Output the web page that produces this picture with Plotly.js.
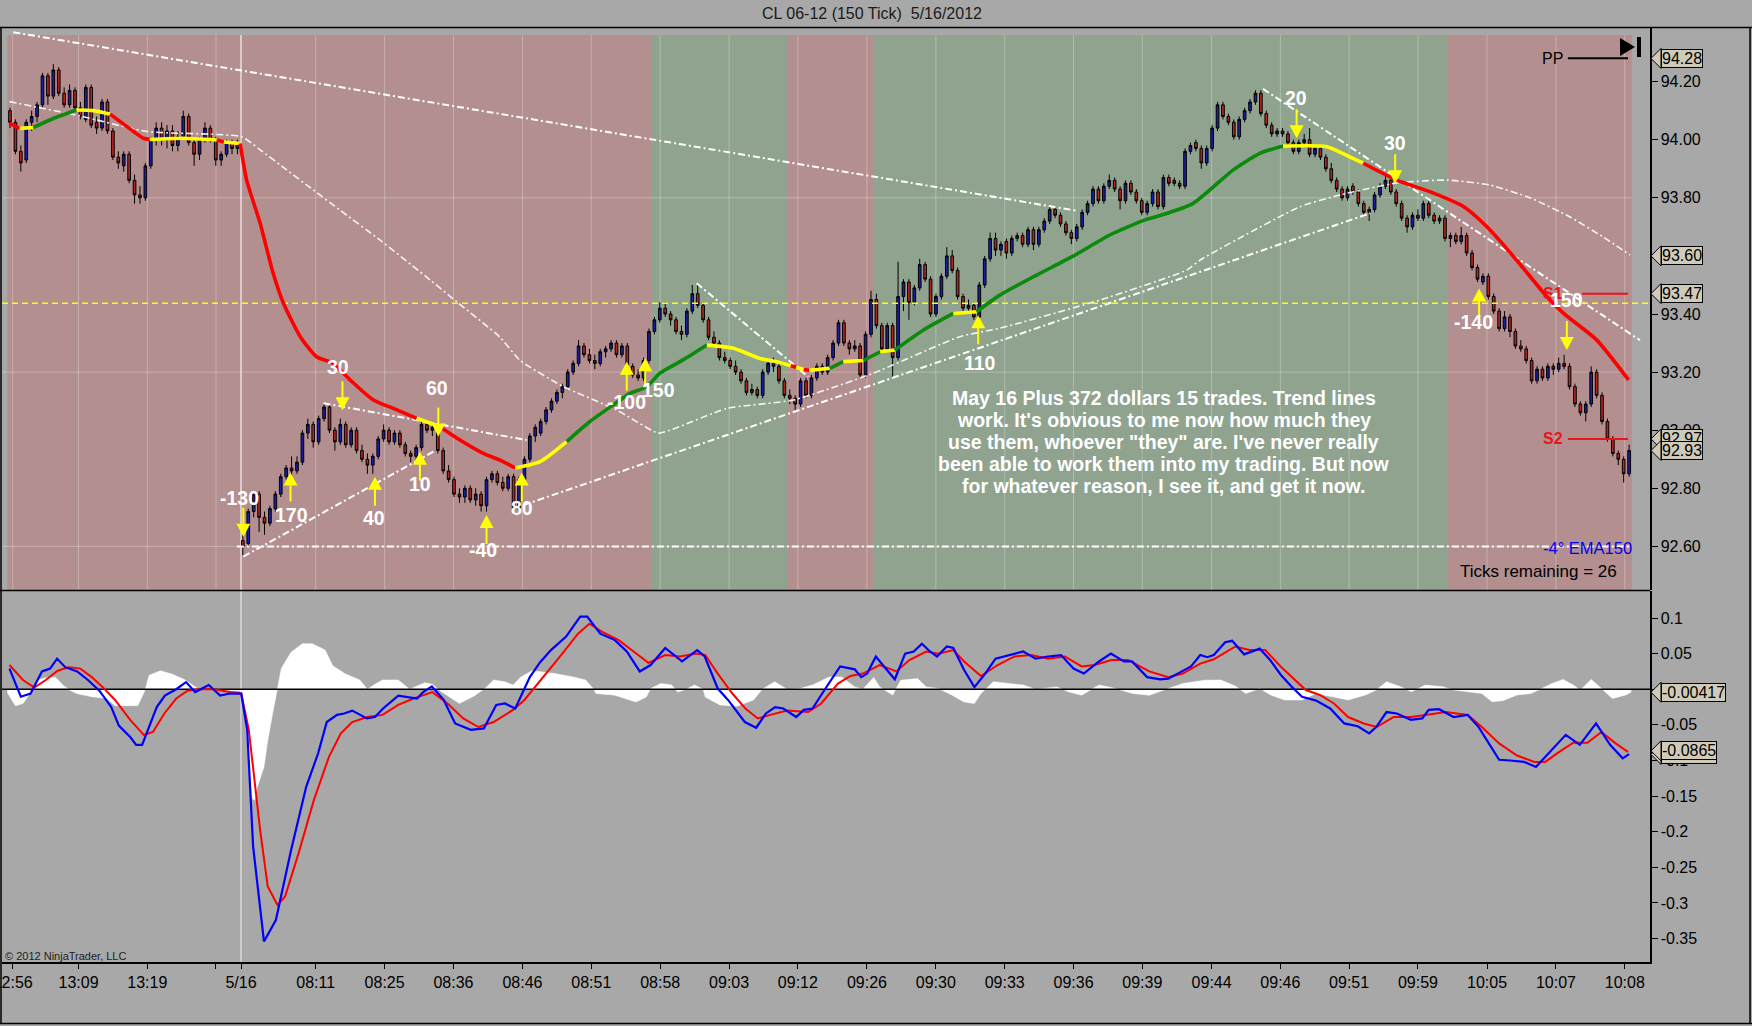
<!DOCTYPE html>
<html><head><meta charset="utf-8">
<script src="https://cdn.plot.ly/plotly-3.0.1.min.js"></script>
<style>html,body{margin:0;padding:0;background:#a8a8a8;}#chart{width:1752px;height:1026px;}</style>
</head><body><div id="chart"></div>
<script>
// ---------------- DATA ----------------
const open=[
94.10,94.06,93.96,93.93,94.06,94.08,94.12,94.22,94.15,94.24,
94.16,94.12,94.17,94.11,94.07,94.18,94.06,94.04,94.13,94.03,
93.94,93.91,93.95,93.86,93.81,93.80,93.91,94.00,94.04,94.00,
94.03,93.98,94.01,94.08,93.99,93.95,94.00,94.04,94.00,93.93,
93.95,93.99,93.97,92.62,92.61,92.72,92.78,92.70,92.68,92.73,
92.78,92.84,92.87,92.86,92.89,92.99,93.02,92.96,93.04,93.08,
93.00,92.96,93.02,92.95,93.00,92.93,92.90,92.88,92.91,92.97,
93.00,92.96,92.99,92.95,92.92,92.91,92.94,93.02,93.00,93.01,
92.93,92.86,92.83,92.78,92.77,92.80,92.76,92.78,92.74,92.83,
92.85,92.82,92.80,92.84,92.73,92.83,92.90,92.98,92.99,93.03,
93.07,93.10,93.13,93.15,93.20,93.23,93.29,93.26,93.24,93.23,
93.27,93.28,93.30,93.26,93.29,93.22,93.19,93.18,93.24,93.34,
93.38,93.42,93.40,93.38,93.34,93.33,93.41,93.47,93.43,93.38,
93.32,93.30,93.25,93.24,93.22,93.20,93.17,93.13,93.14,93.12,
93.20,93.23,93.22,93.17,93.12,93.11,93.09,93.17,93.12,93.18,
93.22,93.20,93.25,93.30,93.37,93.30,93.28,93.29,93.19,93.33,
93.45,93.36,93.28,93.36,93.25,93.46,93.51,93.44,93.49,93.57,
93.52,93.40,93.46,93.53,93.60,93.55,93.46,93.42,93.43,93.39,
93.50,93.59,93.66,93.62,93.65,93.61,93.66,93.67,93.64,93.69,
93.64,93.69,93.72,93.76,93.74,93.71,93.68,93.66,93.70,93.75,
93.78,93.83,93.79,93.84,93.86,93.83,93.79,93.85,93.82,93.79,
93.75,93.78,93.82,93.77,93.87,93.86,93.85,93.84,93.96,93.99,
93.97,93.92,93.97,94.04,94.12,94.08,94.06,94.01,94.07,94.10,
94.13,94.16,94.09,94.05,94.02,94.03,94.02,93.99,93.96,93.99,
94.00,93.95,93.97,93.94,93.90,93.86,93.83,93.80,93.84,93.82,
93.78,93.75,93.76,93.81,93.84,93.86,93.82,93.78,93.73,93.70,
93.74,93.73,93.78,93.74,93.72,93.73,93.66,93.67,93.65,93.67,
93.61,93.56,93.51,93.53,93.46,93.41,93.35,93.39,93.34,93.29,
93.28,93.24,93.17,93.21,93.18,93.22,93.21,93.23,93.22,93.15,
93.09,93.06,93.09,93.20,93.12,93.03,92.97,92.92,92.90,92.85];
const high=[
94.11,94.07,93.98,94.07,94.10,94.13,94.23,94.23,94.26,94.25,
94.18,94.19,94.18,94.13,94.19,94.19,94.08,94.14,94.14,94.04,
93.96,93.96,93.96,93.88,93.84,93.92,94.01,94.06,94.06,94.05,
94.05,94.03,94.10,94.09,94.00,94.01,94.06,94.05,94.01,93.96,
94.00,94.00,94.00,92.64,92.73,92.79,92.79,92.72,92.74,92.79,
92.85,92.88,92.91,92.91,93.00,93.04,93.03,93.05,93.09,93.09,
93.01,93.04,93.03,93.01,93.01,92.95,92.92,92.92,92.98,93.02,
93.01,93.00,93.00,92.96,92.93,92.95,93.03,93.03,93.02,93.02,
92.94,92.88,92.84,92.80,92.81,92.81,92.80,92.79,92.84,92.86,
92.86,92.84,92.85,92.85,92.84,92.91,92.99,93.02,93.04,93.08,
93.11,93.14,93.16,93.21,93.24,93.31,93.30,93.28,93.26,93.28,
93.29,93.31,93.31,93.30,93.30,93.23,93.21,93.25,93.35,93.39,
93.44,93.44,93.41,93.39,93.36,93.42,93.50,93.50,93.44,93.39,
93.34,93.31,93.27,93.25,93.24,93.21,93.18,93.16,93.15,93.21,
93.24,93.25,93.23,93.18,93.14,93.12,93.18,93.18,93.19,93.23,
93.23,93.26,93.31,93.38,93.38,93.31,93.31,93.30,93.34,93.48,
93.47,93.37,93.37,93.37,93.58,93.52,93.52,93.50,93.59,93.58,
93.53,93.47,93.54,93.63,93.62,93.56,93.47,93.45,93.44,93.51,
93.60,93.68,93.68,93.65,93.66,93.67,93.68,93.68,93.70,93.70,
93.70,93.73,93.77,93.77,93.75,93.72,93.69,93.71,93.76,93.79,
93.84,93.84,93.85,93.88,93.87,93.84,93.86,93.86,93.83,93.80,
93.79,93.83,93.83,93.88,93.88,93.87,93.86,93.97,93.99,94.00,
93.98,93.98,94.05,94.13,94.13,94.09,94.07,94.08,94.11,94.14,
94.17,94.17,94.10,94.06,94.04,94.04,94.03,94.00,94.00,94.02,
94.04,93.98,93.98,93.95,93.92,93.87,93.84,93.84,93.85,93.83,
93.79,93.77,93.82,93.85,93.88,93.87,93.83,93.79,93.74,93.75,
93.76,93.79,93.79,93.75,93.74,93.74,93.68,93.68,93.70,93.68,
93.62,93.57,93.54,93.54,93.47,93.42,93.41,93.40,93.35,93.31,
93.29,93.25,93.22,93.22,93.23,93.23,93.25,93.26,93.23,93.16,
93.10,93.10,93.22,93.21,93.13,93.04,92.98,92.93,92.91,92.95];
const low=[
94.04,93.95,93.89,93.92,94.03,94.06,94.11,94.12,94.14,94.15,
94.11,94.11,94.10,94.07,94.06,94.04,94.02,94.03,94.02,93.93,
93.90,93.89,93.85,93.78,93.78,93.79,93.90,93.98,93.98,93.97,
93.96,93.96,94.00,93.98,93.91,93.93,93.99,93.99,93.91,93.91,
93.94,93.95,93.95,92.57,92.60,92.70,92.65,92.64,92.67,92.72,
92.77,92.83,92.84,92.85,92.88,92.97,92.94,92.95,93.03,92.99,
92.93,92.95,92.94,92.94,92.92,92.89,92.85,92.85,92.90,92.96,
92.95,92.95,92.94,92.91,92.89,92.90,92.93,92.99,92.98,92.92,
92.85,92.82,92.77,92.75,92.75,92.75,92.74,92.72,92.72,92.82,
92.81,92.79,92.79,92.71,92.72,92.82,92.89,92.96,92.98,93.02,
93.06,93.09,93.11,93.14,93.19,93.22,93.25,93.23,93.21,93.22,
93.25,93.27,93.25,93.25,93.21,93.18,93.17,93.17,93.23,93.33,
93.37,93.39,93.36,93.33,93.31,93.32,93.40,93.42,93.37,93.31,
93.29,93.24,93.23,93.21,93.19,93.16,93.12,93.12,93.11,93.11,
93.19,93.20,93.16,93.11,93.09,93.07,93.08,93.11,93.11,93.17,
93.19,93.19,93.24,93.29,93.29,93.26,93.27,93.18,93.18,93.32,
93.35,93.27,93.27,93.18,93.24,93.41,93.38,93.43,93.48,93.51,
93.39,93.39,93.45,93.52,93.54,93.45,93.41,93.40,93.38,93.38,
93.49,93.58,93.60,93.60,93.59,93.60,93.65,93.63,93.63,93.62,
93.63,93.68,93.71,93.73,93.70,93.67,93.64,93.65,93.69,93.74,
93.77,93.78,93.78,93.83,93.82,93.76,93.78,93.81,93.78,93.74,
93.74,93.77,93.76,93.76,93.84,93.84,93.83,93.83,93.95,93.96,
93.90,93.91,93.96,94.03,94.07,94.05,94.00,94.00,94.06,94.09,
94.12,94.08,94.04,94.01,94.01,94.01,93.98,93.95,93.95,93.98,
93.94,93.94,93.93,93.89,93.85,93.82,93.79,93.79,93.81,93.77,
93.74,93.72,93.75,93.80,93.83,93.81,93.77,93.72,93.68,93.69,
93.72,93.72,93.73,93.71,93.71,93.65,93.63,93.64,93.64,93.60,
93.55,93.51,93.50,93.45,93.40,93.34,93.34,93.32,93.28,93.27,
93.23,93.16,93.16,93.17,93.17,93.19,93.20,93.21,93.14,93.08,
93.05,93.03,93.08,93.11,93.02,92.96,92.91,92.88,92.82,92.84];
const close=[
94.06,93.96,93.92,94.06,94.08,94.12,94.22,94.15,94.24,94.16,
94.12,94.17,94.11,94.08,94.18,94.05,94.04,94.13,94.03,93.94,
93.92,93.95,93.86,93.81,93.80,93.91,94.00,94.04,94.00,94.03,
93.98,94.01,94.08,93.99,93.95,94.00,94.04,94.00,93.93,93.95,
93.99,93.97,93.99,92.60,92.72,92.78,92.70,92.68,92.73,92.78,
92.84,92.87,92.86,92.89,92.99,93.02,92.96,93.04,93.08,93.00,
92.96,93.02,92.95,93.00,92.93,92.90,92.88,92.91,92.97,93.00,
92.96,92.99,92.95,92.92,92.91,92.94,93.02,93.00,93.01,92.93,
92.86,92.83,92.78,92.77,92.80,92.76,92.78,92.74,92.83,92.85,
92.82,92.80,92.84,92.73,92.83,92.90,92.98,93.01,93.03,93.07,
93.10,93.13,93.15,93.20,93.23,93.29,93.26,93.24,93.23,93.27,
93.28,93.30,93.26,93.29,93.22,93.19,93.18,93.24,93.34,93.38,
93.42,93.40,93.38,93.34,93.33,93.41,93.47,93.43,93.38,93.32,
93.30,93.25,93.24,93.22,93.20,93.17,93.13,93.14,93.12,93.20,
93.23,93.22,93.17,93.12,93.11,93.09,93.17,93.12,93.18,93.22,
93.20,93.25,93.30,93.37,93.30,93.28,93.29,93.19,93.33,93.45,
93.36,93.28,93.36,93.25,93.46,93.51,93.44,93.49,93.57,93.52,
93.40,93.46,93.53,93.60,93.55,93.46,93.42,93.43,93.39,93.50,
93.59,93.66,93.62,93.64,93.61,93.66,93.67,93.64,93.69,93.64,
93.69,93.72,93.76,93.74,93.71,93.68,93.66,93.70,93.75,93.78,
93.83,93.79,93.84,93.86,93.83,93.79,93.85,93.82,93.79,93.75,
93.78,93.82,93.77,93.87,93.85,93.85,93.84,93.96,93.98,93.97,
93.92,93.97,94.04,94.12,94.08,94.06,94.01,94.07,94.10,94.13,
94.16,94.09,94.05,94.02,94.03,94.02,93.99,93.96,93.99,94.00,
93.95,93.97,93.94,93.90,93.86,93.83,93.80,93.83,93.82,93.78,
93.75,93.76,93.81,93.84,93.86,93.82,93.78,93.73,93.70,93.74,
93.73,93.78,93.74,93.72,93.73,93.66,93.67,93.65,93.67,93.61,
93.56,93.52,93.53,93.46,93.41,93.35,93.39,93.34,93.29,93.28,
93.24,93.17,93.21,93.18,93.22,93.21,93.23,93.22,93.15,93.09,
93.06,93.09,93.20,93.12,93.03,92.97,92.92,92.90,92.85,92.93];

// x-axis ticks (bar index positions) and labels
const tickIdx=[0.5,12.65,25.36,38.04,42.66,56.45,69.18,81.9,94.63,107.35,120.07,132.8,145.5,158.25,170.97,183.7,196.4,209.1,221.9,234.6,247.3,260.0,272.76,285.5,298.2];
const tickText=['12:56','13:09','13:19','','5/16','08:11','08:25','08:36','08:46','08:51','08:58','09:03','09:12','09:26','09:30','09:33','09:36','09:39','09:44','09:46','09:51','09:59','10:05','10:07','10:08'];
const sessionIdx=42.66;

// background regimes [startBar, endBar, side]
const regimes=[[-0.5,118.5,'short'],[118.5,143.5,'long'],[143.5,159.5,'short'],[159.5,265.5,'long'],[265.5,299.5,'short']];

// EMA150 (slope-coloured): 1 rising, 0 flat, -1 falling
const emaIdx=[-0.1,1.8,4.3,8.0,12.3,15.4,18.5,21.6,24.6,25.8,32.0,38.2,39.5,42.5,43.7,46.2,48.6,50.5,53.6,56.6,59.7,62.8,67.1,70.8,75.1,79.4,83.1,87.4,90.5,93.3,97.9,102.8,107.1,111.4,114.5,117.6,120.0,124.3,128.7,133.6,138.5,141.6,144.2,145.2,146.6,147.6,151.4,153.9,157.6,160.7,163.4,168.7,174.2,178.5,182.8,189.6,196.4,203.1,209.6,212.4,218.5,225.9,230.8,235.1,243.2,247.5,249.9,256.1,262.2,268.4,272.7,278.2,283.8,286.9,293.0,298.9];
const emaVal=[94.056,94.039,94.042,94.073,94.102,94.100,94.088,94.045,94.005,94.001,94.005,93.999,93.992,93.987,93.861,93.712,93.540,93.437,93.322,93.253,93.230,93.173,93.104,93.075,93.041,93.012,92.966,92.920,92.897,92.870,92.892,92.961,93.030,93.087,93.127,93.150,93.196,93.242,93.293,93.282,93.247,93.236,93.222,93.217,93.209,93.206,93.213,93.236,93.240,93.270,93.276,93.345,93.402,93.408,93.465,93.534,93.600,93.672,93.724,93.739,93.781,93.896,93.953,93.978,93.976,93.940,93.919,93.861,93.821,93.770,93.701,93.586,93.460,93.402,93.311,93.173];
const emaTrend=[-1,0,1,1,0,0,-1,-1,-1,0, 0,-1,0,-1,-1,-1,-1,-1,-1,-1, -1,-1,-1,-1,0,-1,-1,-1,-1,0, 0,1,1,1,1,1,1,1,0,0, 0,0,-1,0,-1,0,1,0,1,0, 1,1,0,1,1,1,1,1,1,1, 1,1,1,0,0,0,-1,-1,-1,-1, -1,-1,-1,-1,-1,-1];

// long moving average (white dash-dot curve)
const smaIdx=[-0.1,12.9,25.3,42.8,46.2,51.1,56.0,60.9,68.3,77.6,82.5,90.5,94.2,102.2,112.0,119.7,121.9,132.4,144.7,159.4,175.4,182.8,201.3,217.3,219.8,238.2,245.6,256.1,265.4,273.3,280.7,288.1,294.2,299.2];
const smaVal=[94.131,94.082,94.028,94.010,93.965,93.896,93.827,93.758,93.655,93.517,93.442,93.320,93.240,93.150,93.070,92.990,93.000,93.075,93.104,93.196,93.322,93.351,93.448,93.551,93.586,93.769,93.810,93.851,93.861,93.844,93.800,93.734,93.665,93.603];

// trend lines [x0, price0, x1, price1]
const trendLines=[[0.6,94.37,197.2,93.755],[43.1,92.565,78.2,92.926],[57.9,93.093,95.4,92.966],[94.8,92.742,251.2,93.747],[126.8,93.506,147.4,93.184],[231.4,94.175,301.0,93.31],[41.9,92.60,299.2,92.60]];
const yellowLine=93.437;

// pivot levels
const levelName=['PP','S1','S2'];
const levelVal=[94.28,93.47,92.97];
const levelStart=[287.7,290.3,287.7];
const levelEnd=[298.8,298.8,298.8];

// trades
const tradeIdx=[43.1,51.8,61.4,67.4,75.7,79.1,88.0,94.5,113.9,117.3,178.8,237.6,255.8,271.3,287.5];
const tradeTip=[92.633,92.854,93.069,92.840,92.926,92.978,92.708,92.854,93.236,93.248,93.396,94.005,93.850,93.488,93.276];
const tradeDir=[-1,1,-1,1,1,-1,1,1,1,1,1,-1,-1,1,-1];
const tradePnl=['-130','170','30','40','10','60','-40','80','-100','150','110','20','30','-140','150'];
const labelIdx=[42.3,52.0,60.6,67.2,75.7,78.9,87.4,94.5,113.9,119.7,179.1,237.5,255.8,270.2,287.5];
const labelPrice=[92.765,92.708,93.217,92.697,92.815,93.144,92.588,92.731,93.098,93.138,93.232,94.143,93.990,93.374,93.448];

// MACD panel
const blueIdx=[-0.1,2.0,3.8,5.9,7.4,8.7,10.2,12.4,14.4,16.5,18.7,20.1,22.2,23.3,24.4,25.7,27.1,28.6,30.7,32.5,34.2,36.7,38.8,40.6,42.7,43.8,44.9,46.9,49.1,51.9,54.7,56.9,58.5,60.4,61.7,63.2,65.9,67.4,68.9,71.7,73.8,75.2,76.3,77.9,80.1,82.2,85.1,87.5,89.8,91.4,93.3,96.0,97.9,99.9,102.7,105.3,106.6,109.0,111.7,113.9,116.3,118.3,121.0,124.1,126.9,128.3,130.7,132.6,135.7,137.8,139.6,141.3,142.8,145.2,146.6,148.2,150.5,153.3,156.0,157.2,158.3,159.9,161.4,163.4,165.3,166.9,168.4,169.9,171.2,173.0,174.2,176.2,178.1,180.1,182.0,184.7,187.1,189.4,191.7,194.1,196.4,198.3,201.1,203.3,205.7,207.2,210.0,212.4,213.9,215.9,218.1,219.8,221.1,222.3,224.4,225.7,227.9,230.8,232.7,234.7,236.7,238.6,241.2,243.8,246.4,248.9,251.0,252.3,254.2,256.1,258.7,260.8,262.0,263.9,266.6,269.2,271.1,273.1,275.0,277.0,279.6,281.8,284.1,287.3,289.9,292.9,295.5,297.8,299.0];
const blueVal=[0.029,-0.0105,-0.006,0.025,0.029,0.043,0.031,0.025,0.013,-0.002,-0.025,-0.051,-0.067,-0.078,-0.078,-0.053,-0.025,-0.009,0.0,0.01,-0.004,0.006,-0.009,-0.006,-0.006,-0.057,-0.221,-0.354,-0.324,-0.226,-0.137,-0.090,-0.046,-0.036,-0.034,-0.030,-0.041,-0.039,-0.027,-0.009,-0.011,-0.013,-0.004,0.004,-0.015,-0.048,-0.057,-0.055,-0.022,-0.020,-0.027,0.017,0.038,0.055,0.074,0.102,0.102,0.078,0.069,0.053,0.025,0.034,0.058,0.039,0.055,0.046,0.001,-0.015,-0.046,-0.054,-0.034,-0.025,-0.027,-0.039,-0.029,-0.027,0.0,0.032,0.028,0.017,0.022,0.046,0.032,0.014,0.050,0.053,0.064,0.053,0.046,0.060,0.058,0.027,0.003,0.022,0.043,0.048,0.053,0.043,0.046,0.048,0.029,0.022,0.039,0.050,0.039,0.039,0.017,0.014,0.015,0.023,0.032,0.048,0.045,0.048,0.066,0.068,0.049,0.057,0.041,0.020,0.0035,-0.0105,-0.016,-0.027,-0.048,-0.052,-0.062,-0.053,-0.032,-0.034,-0.043,-0.041,-0.029,-0.028,-0.039,-0.036,-0.052,-0.076,-0.099,-0.100,-0.102,-0.109,-0.090,-0.064,-0.078,-0.048,-0.078,-0.097,-0.091];
const redIdx=[-0.1,2.4,4.5,6.6,8.8,10.9,13.0,15.1,17.2,19.4,22.2,24.7,26.4,28.5,30.7,32.8,34.9,37.7,40.6,42.7,44.1,46.2,47.6,49.4,50.8,53.3,56.1,58.9,61.1,63.2,66.0,68.8,71.7,74.5,78.0,80.8,83.7,86.5,89.3,92.9,95.0,98.5,102.0,104.9,107.0,109.3,112.4,114.8,117.9,121.0,123.7,126.8,128.4,130.7,133.4,135.8,138.1,140.4,143.5,147.4,149.8,152.9,155.2,157.5,160.6,163.7,166.1,169.2,171.5,174.2,176.2,179.3,182.4,185.5,188.6,191.7,194.8,197.9,200.3,203.4,206.5,210.4,213.9,216.6,219.8,222.3,226.3,228.9,231.8,234.7,237.3,239.3,241.9,244.5,247.1,250.0,252.4,255.5,258.8,262.0,265.2,269.2,271.8,275.0,278.3,281.5,283.5,286.1,288.7,291.3,293.9,296.5,298.8];
const redVal=[0.034,0.013,0.0023,0.013,0.026,0.031,0.029,0.017,0.0023,-0.015,-0.043,-0.064,-0.060,-0.034,-0.013,-0.002,0.0,0.0,-0.004,-0.006,-0.057,-0.198,-0.277,-0.303,-0.291,-0.230,-0.156,-0.095,-0.062,-0.046,-0.039,-0.036,-0.022,-0.013,-0.004,-0.020,-0.041,-0.053,-0.046,-0.029,-0.015,0.017,0.050,0.078,0.092,0.081,0.069,0.055,0.037,0.048,0.046,0.050,0.048,0.022,-0.006,-0.027,-0.041,-0.036,-0.030,-0.032,-0.020,0.008,0.0186,0.022,0.034,0.025,0.041,0.053,0.050,0.055,0.039,0.0186,0.034,0.046,0.048,0.043,0.046,0.032,0.034,0.041,0.041,0.025,0.017,0.022,0.036,0.042,0.060,0.055,0.055,0.0316,0.0129,-0.0011,-0.0081,-0.020,-0.039,-0.048,-0.053,-0.039,-0.039,-0.036,-0.032,-0.036,-0.053,-0.076,-0.093,-0.102,-0.102,-0.088,-0.075,-0.075,-0.060,-0.076,-0.088];
const histIdx=[-0.5,1.0,2.4,4.2,5.2,6.6,8.4,9.8,11.2,12.3,15.1,17.9,19.4,21.5,23.6,24.9,25.7,27.8,30.0,32.1,33.5,34.9,37.7,40.6,42.5,43.4,44.1,44.7,45.2,45.6,46.9,47.6,48.5,49.4,50.1,51.9,54.0,55.8,58.2,59.6,61.8,64.6,66.0,67.4,68.8,71.7,73.8,75.2,76.6,78.0,79.4,80.8,83.0,85.8,87.9,89.3,91.4,92.9,94.3,96.4,100.6,104.2,106.3,107.8,108.2,111.7,115.6,117.5,118.3,120.2,122.2,123.3,124.9,126.4,128.0,128.4,131.1,134.2,137.3,138.9,141.2,143.5,145.9,148.2,151.3,153.6,156.0,157.5,159.5,160.6,163.0,164.5,167.6,169.2,171.5,173.9,176.2,178.1,179.3,181.6,187.1,189.4,193.3,195.6,197.9,201.1,204.2,207.3,210.4,213.5,216.6,220.5,223.6,226.3,228.2,230.8,232.8,235.4,238.6,241.2,244.5,247.1,250.3,252.3,254.2,256.8,258.8,261.4,264.6,266.6,271.8,273.7,275.7,278.3,280.9,282.2,284.8,286.8,288.7,290.0,292.0,293.9,295.9,298.4,299.4];
const histVal=[-0.0045,-0.023,-0.020,0.0,0.013,0.016,0.017,0.0055,-0.002,-0.006,-0.0105,-0.013,-0.023,-0.023,-0.023,-0.002,0.0195,0.026,0.021,0.014,0.007,0.0,0.0,-0.002,-0.002,-0.034,-0.099,-0.153,-0.156,-0.139,-0.109,-0.072,-0.034,0.0,0.029,0.052,0.064,0.064,0.055,0.033,0.022,0.013,0.0,0.007,0.013,0.013,0.0,0.0045,0.009,0.007,-0.002,-0.009,-0.020,-0.009,0.0023,0.013,0.0105,0.0058,0.017,0.026,0.022,0.017,0.013,0.0,-0.006,-0.0083,-0.018,-0.011,0.001,0.008,0.0059,-0.004,0.0,0.0059,0.0,-0.011,-0.022,-0.024,-0.015,0.0,0.0106,0.0,0.001,0.0059,0.0173,0.0173,0.0033,0.0,0.0166,0.0033,-0.008,0.0126,0.015,0.0033,0.001,-0.008,-0.018,-0.020,-0.006,0.0106,0.0059,0.0,0.0033,-0.004,-0.0083,0.0059,0.001,-0.006,-0.0083,0.0,0.008,0.0126,0.0129,0.0044,-0.006,0.0011,-0.0081,-0.015,-0.015,-0.006,-0.0105,-0.015,-0.0081,-0.0011,0.0105,0.0035,-0.0034,0.0058,0.0035,-0.0011,-0.006,-0.0175,-0.016,-0.0081,-0.006,-0.0011,0.0082,0.0138,0.0058,-0.0011,0.0138,0.0011,-0.0129,-0.0081,-0.004];

// last-value markers on the price scales
const topMarks=['94.28','93.60','93.47','92.97','92.93'];
const botMarks=['-0.00417','-0.0915','-0.0865'];

const noteLines=['May 16 Plus 372 dollars 15 trades. Trend lines','work. It\'s obvious to me now how much they','use them, whoever "they" are. I\'ve never really','been able to work them into my trading. But now','for whatever reason, I see it, and get it now.'];

// ---------------- CHART ----------------
const FONT='"Liberation Sans", Arial, Helvetica, sans-serif';
const xRange=[-1.477,302.86];
const yTop=[92.45,94.3845];
const yBot=[-0.3829,0.1379];
const shadeTop=94.36;
const topPanelPx=562;
const pricePerPx=(yTop[1]-yTop[0])/topPanelPx;
const barIdx=close.map((_,i)=>i);

const traces=[];
traces.push({type:'candlestick',x:barIdx,open:open,high:high,low:low,close:close,xaxis:'x',yaxis:'y2',
  increasing:{line:{color:'#000',width:1},fillcolor:'#1c1ca6'},
  decreasing:{line:{color:'#000',width:1},fillcolor:'#b3261e'},
  whiskerwidth:0,hoverinfo:'skip',showlegend:false});

traces.push({type:'scatter',mode:'lines',x:smaIdx,y:smaVal,xaxis:'x',yaxis:'y2',
  line:{color:'rgba(255,255,255,0.9)',width:1.6,dash:'7px,3px,2px,3px',shape:'spline',smoothing:0.5},hoverinfo:'skip'});
const tlx=[],tly=[];
trendLines.forEach(t=>{tlx.push(t[0],t[2],null);tly.push(t[1],t[3],null);});
traces.push({type:'scatter',mode:'lines',x:tlx,y:tly,xaxis:'x',yaxis:'y2',connectgaps:false,
  line:{color:'#ffffff',width:2,dash:'7px,3px,2px,3px'},hoverinfo:'skip'});
traces.push({type:'scatter',mode:'lines',x:xRange,y:[yellowLine,yellowLine],xaxis:'x',yaxis:'y2',
  line:{color:'#ffff00',width:1.6,dash:'6px,4px'},hoverinfo:'skip'});
levelVal.forEach((v,k)=>{
  traces.push({type:'scatter',mode:'lines',x:[levelStart[k],levelEnd[k]],y:[v,v],xaxis:'x',yaxis:'y2',
    line:{color:levelName[k]==='PP'?'#000':'#e8141c',width:2},hoverinfo:'skip'});
});
const trendColor={'1':'#0c8a0c','0':'#ffff00','-1':'#ff0000'};
let st=0;
for(let k=1;k<emaIdx.length;k++){
  if(k===emaIdx.length-1 || emaTrend[k]!==emaTrend[st]){
    traces.push({type:'scatter',mode:'lines',x:emaIdx.slice(st,k+1),y:emaVal.slice(st,k+1),xaxis:'x',yaxis:'y2',
      line:{color:trendColor[String(emaTrend[st])],width:3.6,shape:'spline',smoothing:0.6},hoverinfo:'skip'});
    st=k;
  }
}
traces.push({type:'scatter',mode:'lines',x:histIdx,y:histVal,xaxis:'x',yaxis:'y',fill:'tozeroy',
  fillcolor:'#ffffff',line:{color:'#ffffff',width:0.5},hoverinfo:'skip'});
traces.push({type:'scatter',mode:'lines',x:xRange,y:[0,0],xaxis:'x',yaxis:'y',line:{color:'#000',width:1.5},hoverinfo:'skip'});
traces.push({type:'scatter',mode:'lines',x:redIdx,y:redVal,xaxis:'x',yaxis:'y',line:{color:'#ff0000',width:2},hoverinfo:'skip'});
traces.push({type:'scatter',mode:'lines',x:blueIdx,y:blueVal,xaxis:'x',yaxis:'y',line:{color:'#0000ff',width:2.2},hoverinfo:'skip'});

// ---------------- SHAPES ----------------
const shapes=[];
regimes.forEach(r=>{
  shapes.push({type:'rect',xref:'x',yref:'y2',x0:r[0],x1:r[1],y0:yTop[0],y1:shadeTop,
    fillcolor:r[2]==='short'?'rgb(179,143,143)':'rgb(143,163,143)',line:{width:0},layer:'below'});
});
[92.6,93.2,93.8].forEach(v=>{
  shapes.push({type:'line',xref:'x',yref:'y2',x0:xRange[0],x1:299.5,y0:v,y1:v,line:{color:'rgba(255,255,255,0.28)',width:1},layer:'below'});
});
tickIdx.forEach(t=>{
  if(t===sessionIdx) return;
  shapes.push({type:'line',xref:'x',yref:'y2',x0:t,x1:t,y0:yTop[0],y1:shadeTop,line:{color:'rgba(255,255,255,0.28)',width:1},layer:'below'});
});
shapes.push({type:'line',xref:'x',yref:'y2',x0:sessionIdx,x1:sessionIdx,y0:yTop[0],y1:shadeTop,line:{color:'rgba(255,255,255,0.7)',width:1.5},layer:'below'});
shapes.push({type:'line',xref:'x',yref:'y',x0:sessionIdx,x1:sessionIdx,y0:yBot[0],y1:yBot[1],line:{color:'rgba(255,255,255,0.55)',width:1.5},layer:'below'});

tradeIdx.forEach((xi,k)=>{
  const s=tradeDir[k]>0?-1:1;
  const p='M0,0 L7,'+(13*s)+' L1,'+(13*s)+' L1,'+(29*s)+' L-1,'+(29*s)+' L-1,'+(13*s)+' L-7,'+(13*s)+' Z';
  shapes.push({type:'path',xref:'x',yref:'y2',xsizemode:'pixel',ysizemode:'pixel',xanchor:xi,yanchor:tradeTip[k],
    path:p,fillcolor:'#ffff00',line:{width:0},layer:'above'});
});

topMarks.forEach(m=>{
  shapes.push({type:'path',xref:'paper',yref:'y2',xsizemode:'pixel',ysizemode:'pixel',xanchor:1,yanchor:parseFloat(m),
    path:'M1,0 L11,10 L11,-10 Z',fillcolor:'#cfcbb8',line:{color:'#000',width:1},layer:'above'});
});
botMarks.forEach(m=>{
  shapes.push({type:'path',xref:'paper',yref:'y',xsizemode:'pixel',ysizemode:'pixel',xanchor:1,yanchor:parseFloat(m),
    path:'M1,0 L11,10 L11,-10 Z',fillcolor:'#cfcbb8',line:{color:'#000',width:1},layer:'above'});
});

const fr=[[-0.0012,1.0005,1.0619,1.0005],[1.0607,1.0005,1.0607,-0.0658],[-0.0012,-0.0658,1.0619,-0.0658],[-0.0006,1.0005,-0.0006,-0.0658],[-0.0012,0.3978,1.0,0.3978]];
fr.forEach(f=>shapes.push({type:'line',xref:'paper',yref:'paper',x0:f[0],y0:f[1],x1:f[2],y1:f[3],line:{color:'#000',width:1.5},layer:'above'}));
shapes.push({type:'path',xref:'paper',yref:'paper',xsizemode:'pixel',ysizemode:'pixel',xanchor:1,yanchor:1,
  path:'M-30,-10 L-15,-19 L-30,-28 Z',fillcolor:'#000',line:{width:0},layer:'above'});
shapes.push({type:'rect',xref:'paper',yref:'paper',xsizemode:'pixel',ysizemode:'pixel',xanchor:1,yanchor:1,
  x0:-13,x1:-9,y0:-9,y1:-29,fillcolor:'#000',line:{width:0},layer:'above'});

// ---------------- ANNOTATIONS ----------------
const ann=[];
ann.push({xref:'x',yref:'y2',x:287.2,y:levelVal[0],text:'PP',showarrow:false,xanchor:'right',yanchor:'middle',font:{family:FONT,size:16,color:'#000'}});
ann.push({xref:'x',yref:'y2',x:287.2,y:levelVal[1],text:'<b>S1</b>',showarrow:false,xanchor:'right',yanchor:'middle',font:{family:FONT,size:16,color:'#e8141c'}});
ann.push({xref:'x',yref:'y2',x:287.2,y:levelVal[2],text:'<b>S2</b>',showarrow:false,xanchor:'right',yanchor:'middle',font:{family:FONT,size:16,color:'#e8141c'}});
tradePnl.forEach((t,k)=>{
  ann.push({xref:'x',yref:'y2',x:labelIdx[k],y:labelPrice[k],text:'<b>'+t+'</b>',showarrow:false,xanchor:'center',yanchor:'middle',
    font:{family:FONT,size:19.5,color:'#ffffff'}});
});
// note, one annotation per line, 22 px apart
const noteX=213.1, noteTopPrice=93.111;
noteLines.forEach((l,k)=>{
  ann.push({xref:'x',yref:'y2',x:noteX,y:noteTopPrice-k*22*pricePerPx,text:'<b>'+l+'</b>',showarrow:false,
    xanchor:'center',yanchor:'middle',font:{family:FONT,size:19.5,color:'#ffffff'}});
});
ann.push({xref:'x',yref:'y2',x:291.4,y:92.594,text:'-4° EMA150',showarrow:false,xanchor:'center',yanchor:'middle',font:{family:FONT,size:16.5,color:'#0000ee'}});
ann.push({xref:'x',yref:'y2',x:282.2,y:92.515,text:'Ticks remaining = 26',showarrow:false,xanchor:'center',yanchor:'middle',font:{family:FONT,size:17,color:'#000'}});
ann.push({xref:'paper',yref:'paper',x:0.0006,y:0.0064,text:'© 2012 NinjaTrader, LLC',showarrow:false,xanchor:'left',yanchor:'middle',font:{family:FONT,size:11,color:'#1e1e1e'}});
topMarks.forEach(m=>ann.push({xref:'paper',yref:'y2',x:1,xshift:11,y:parseFloat(m),text:m,showarrow:false,xanchor:'left',yanchor:'middle',
  bgcolor:'#cfcbb8',bordercolor:'#000',borderwidth:1,borderpad:0,font:{family:FONT,size:16,color:'#000'}}));
botMarks.forEach(m=>ann.push({xref:'paper',yref:'y',x:1,xshift:11,y:parseFloat(m),text:m,showarrow:false,xanchor:'left',yanchor:'middle',
  bgcolor:'#cfcbb8',bordercolor:'#000',borderwidth:1,borderpad:0,font:{family:FONT,size:16,color:'#000'}}));

const topTicks=[92.6,92.8,93.0,93.2,93.4,93.6,93.8,94.0,94.2];
const botTicks=[0.1,0.05,0,-0.05,-0.1,-0.15,-0.2,-0.25,-0.3,-0.35];

const layout={
  width:1752,height:1026,
  margin:{l:2,r:102,t:28,b:64,pad:0},
  paper_bgcolor:'#a8a8a8',plot_bgcolor:'#a8a8a8',
  showlegend:false,hovermode:false,dragmode:false,
  font:{family:FONT,color:'#000'},
  title:{text:'CL 06-12 (150 Tick)\u00a0 5/16/2012',x:0.4977,xanchor:'center',y:0.987,yanchor:'middle',font:{family:FONT,size:16,color:'#1a1a1a'}},
  xaxis:{range:xRange,domain:[0,1],anchor:'y',tickmode:'array',tickvals:tickIdx,ticktext:tickText,ticks:'outside',ticklen:5,tickcolor:'#000',
    showgrid:false,zeroline:false,showline:true,linecolor:'#000',linewidth:1.5,tickfont:{family:FONT,size:16,color:'#000'},
    rangeslider:{visible:false},fixedrange:true,ticklabeloverflow:'allow'},
  yaxis:{domain:[0,0.3972],range:yBot,side:'right',anchor:'x',tickmode:'array',tickvals:botTicks,ticktext:botTicks.map(v=>String(v)),
    ticks:'outside',ticklen:6,tickcolor:'#000',showgrid:false,zeroline:false,showline:true,linecolor:'#000',linewidth:1.5,
    tickfont:{family:FONT,size:16,color:'#000'},fixedrange:true},
  yaxis2:{domain:[0.3983,1],range:yTop,side:'right',anchor:'x',tickmode:'array',tickvals:topTicks,ticktext:topTicks.map(v=>v.toFixed(2)),
    ticks:'outside',ticklen:6,tickcolor:'#000',showgrid:false,zeroline:false,showline:true,linecolor:'#000',linewidth:1.5,
    tickfont:{family:FONT,size:16,color:'#000'},fixedrange:true},
  shapes:shapes,annotations:ann
};
Plotly.newPlot('chart',traces,layout,{staticPlot:true,displayModeBar:false});
</script></body></html>
